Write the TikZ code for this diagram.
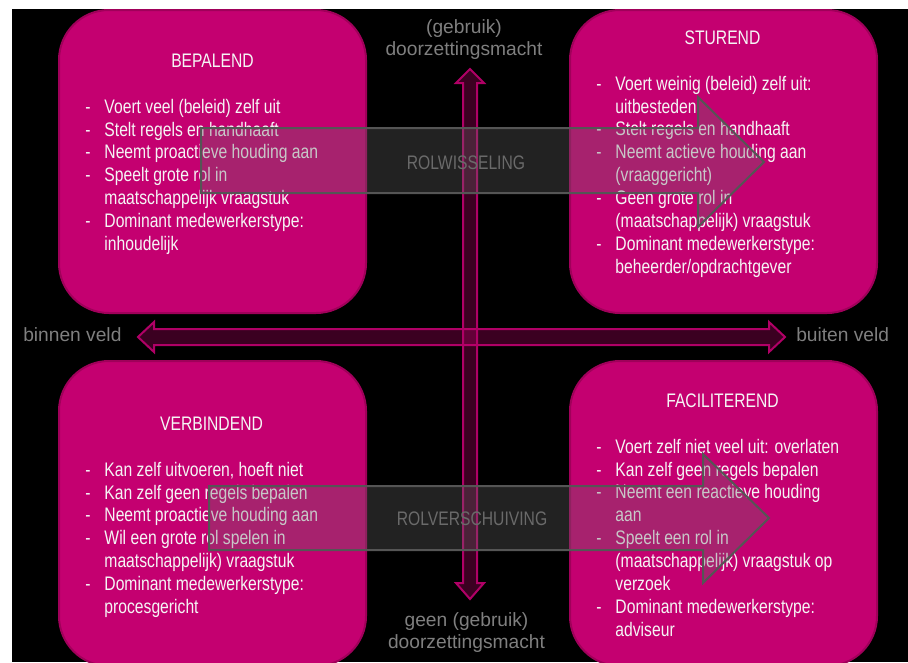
\documentclass[tikz,border=0pt]{standalone}
\usepackage{fontspec}
\setmainfont{Liberation Sans}
\newfontfamily\condfont[FakeStretch=0.8]{Liberation Sans}
\definecolor{mag}{RGB}{196,0,112}
\definecolor{magedge}{RGB}{160,0,90}
\definecolor{axisedge}{RGB}{176,0,102}
\definecolor{lblgray}{RGB}{127,127,127}
\definecolor{blkfill}{RGB}{106,106,106}
\definecolor{blkedge}{RGB}{85,85,85}
\definecolor{blktext}{RGB}{106,106,106}
\definecolor{txt}{RGB}{245,245,245}
\newcommand{\dsh}{\makebox[14.4pt][l]{-}}
\newcommand{\cnt}{\hspace*{14.4pt}}
\begin{document}
\begin{tikzpicture}[x=0.75pt,y=-0.75pt,
  quadbox/.style={draw=magedge, line width=1.5pt, fill=mag, rounded corners=37.5pt, minimum width=230.25pt, inner sep=0pt},
  ttl/.style={anchor=base, text=txt, font=\condfont\fontsize{14.7pt}{17.14pt}\selectfont, inner sep=0pt},
  lst/.style={anchor=north west, align=left, text=txt, font=\condfont\fontsize{14.7pt}{17.14pt}\selectfont, inner sep=0pt},
  axisarrow/.style={draw=axisedge, line width=1.5pt, fill=mag, fill opacity=0.3},
  lbl/.style={text=lblgray, font=\fontsize{14.4pt}{16.5pt}\selectfont, inner sep=0pt},
  blockarrow/.style={draw=blkedge, line width=1.5pt, fill=blkfill, fill opacity=0.32},
  blabel/.style={anchor=base, text=blktext, font=\condfont\fontsize{14.7pt}{17.14pt}\selectfont, inner sep=0pt}]
\useasboundingbox (0,0) rectangle (908,662);
\clip (0,0) rectangle (908,662);
\fill[white] (0,0) rectangle (908,662);
\fill[black] (12,9) rectangle (908,662);

% quadrant boxes
\node[quadbox, minimum height=227.25pt] (bep) at (212.5,161.5) {};
\node[quadbox, minimum height=227.25pt] (stu) at (723.5,161.5) {};
\node[quadbox, minimum height=228.75pt] (ver) at (212.5,513.5) {};
\node[quadbox, minimum height=228.75pt] (fac) at (723.5,513.5) {};

% titles
\node[ttl] (bepT) at (212.5,67) {BEPALEND};
\node[ttl] (stuT) at (722.5,44) {STUREND};
\node[ttl] (verT) at (211.5,430) {VERBINDEND};
\node[ttl] (facT) at (722.5,407) {FACILITEREND};

% lists
\node[lst] (bepL) at (85,97) {\rule{0pt}{12pt}\dsh Voert veel (beleid) zelf uit\\
\dsh Stelt regels en handhaaft\\
\dsh Neemt proactieve houding aan\\
\dsh Speelt grote rol in\\
\cnt maatschappelijk vraagstuk\\
\dsh Dominant medewerkerstype:\\
\cnt inhoudelijk};

\node[lst] (stuL) at (596,74) {\rule{0pt}{12pt}\dsh Voert weinig (beleid) zelf uit:\\
\cnt uitbesteden\\
\dsh Stelt regels en handhaaft\\
\dsh Neemt actieve houding aan\\
\cnt (vraaggericht)\\
\dsh Geen grote rol in\\
\cnt (maatschappelijk) vraagstuk\\
\dsh Dominant medewerkerstype:\\
\cnt beheerder/opdrachtgever};

\node[lst] (verL) at (85,460) {\rule{0pt}{12pt}\dsh Kan zelf uitvoeren, hoeft niet\\
\dsh Kan zelf geen regels bepalen\\
\dsh Neemt proactieve houding aan\\
\dsh Wil een grote rol spelen in\\
\cnt maatschappelijk) vraagstuk\\
\dsh Dominant medewerkerstype:\\
\cnt procesgericht};

\node[lst] (facL) at (596,437) {\rule{0pt}{12pt}\dsh Voert zelf niet veel uit: overlaten\\
\dsh Kan zelf geen regels bepalen\\
\dsh Neemt een reactieve houding\\
\cnt aan\\
\dsh Speelt een rol in\\
\cnt (maatschappelijk) vraagstuk op\\
\cnt verzoek\\
\dsh Dominant medewerkerstype:\\
\cnt adviseur};

% axes (double arrows)
\draw[axisarrow] (138,337) -- (154,322) -- (154,329) -- (769,329) -- (769,322) -- (785,337)
  -- (769,352) -- (769,345) -- (154,345) -- (154,352) -- cycle;
\draw[axisarrow] (470,69) -- (484,83) -- (477,83) -- (477,583) -- (484,583) -- (470,599)
  -- (456,583) -- (463,583) -- (463,83) -- (456,83) -- cycle;

% axis labels
\node[lbl, anchor=base west] (binnen) at (23,341) {binnen veld};
\node[lbl, anchor=base west] (buiten) at (796,341) {buiten veld};
\node[lbl, anchor=base] (topA) at (464,33) {(gebruik)};
\node[lbl, anchor=base] (topB) at (464,55) {doorzettingsmacht};
\node[lbl, anchor=base] (botA) at (466.5,626) {geen (gebruik)};
\node[lbl, anchor=base] (botB) at (466.5,648) {doorzettingsmacht};

% block arrows
\draw[blockarrow] (201,128) -- (698,128) -- (698,97) -- (764,162) -- (698,227) -- (698,193) -- (201,193) -- cycle;
\node[blabel] (rolw) at (466,169) {ROLWISSELING};
\draw[blockarrow] (209,486) -- (703,486) -- (703,454) -- (769,518) -- (703,583) -- (703,550) -- (209,550) -- cycle;
\node[blabel] (rolv) at (472,525) {ROLVERSCHUIVING};
\end{tikzpicture}
\end{document}
